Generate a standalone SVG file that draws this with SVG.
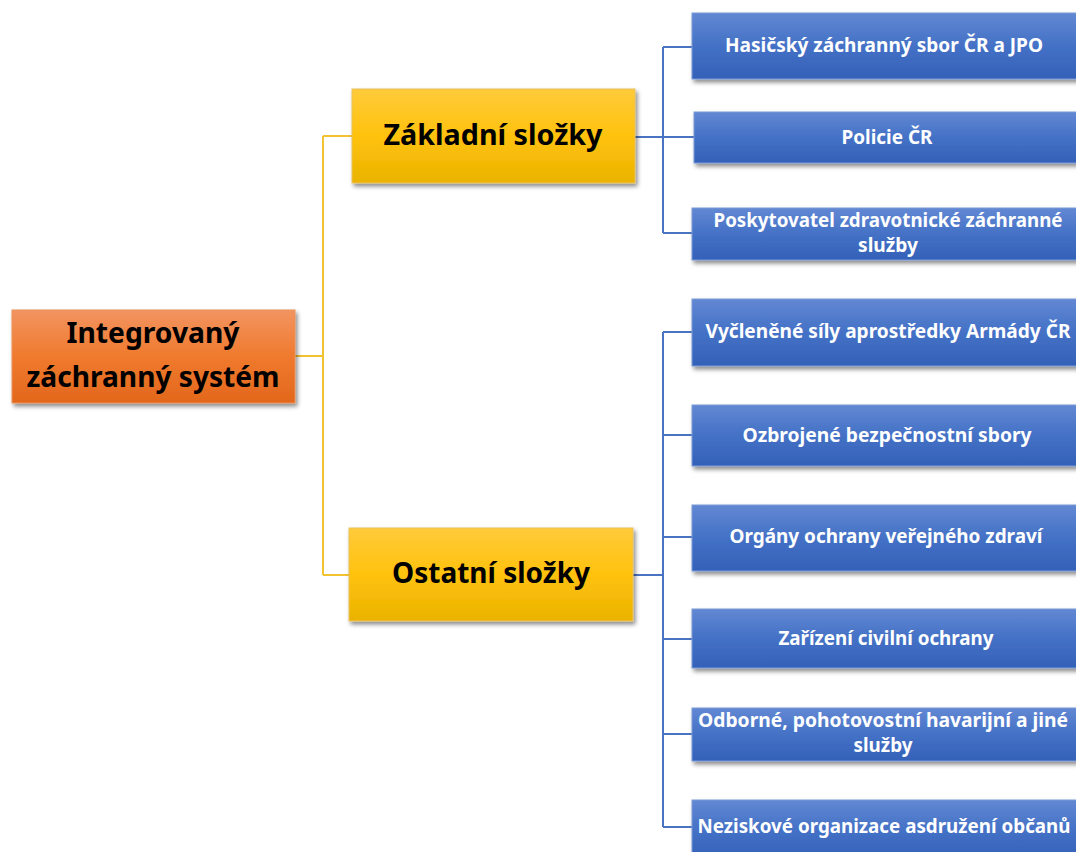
<svg xmlns="http://www.w3.org/2000/svg" width="1076" height="852" viewBox="0 0 1076 852">
<defs>
<linearGradient id="gO" x1="0" y1="0" x2="0" y2="1"><stop offset="0" stop-color="#F29461"/><stop offset="0.5" stop-color="#F07A2E"/><stop offset="1" stop-color="#E2671C"/></linearGradient>
<linearGradient id="gY" x1="0" y1="0" x2="0" y2="1"><stop offset="0" stop-color="#FFCB3A"/><stop offset="0.5" stop-color="#FFC20E"/><stop offset="1" stop-color="#E9B300"/></linearGradient>
<linearGradient id="gB" x1="0" y1="0" x2="0" y2="1"><stop offset="0" stop-color="#6288D3"/><stop offset="0.5" stop-color="#4471C6"/><stop offset="1" stop-color="#3461B8"/></linearGradient>
<filter id="sh" x="-10%" y="-20%" width="130%" height="160%"><feDropShadow dx="2" dy="3" stdDeviation="2" flood-color="#000" flood-opacity="0.45"/></filter>
</defs>
<style>
.root{fill:url(#gO);stroke:#E9915A;stroke-width:1;filter:url(#sh)}
.mid{fill:url(#gY);stroke:#E8C060;stroke-width:1;filter:url(#sh)}
.leaf{fill:url(#gB);stroke:#7A9AD6;stroke-width:1;filter:url(#sh)}
.t{font-family:"Noto Sans","Open Sans",sans-serif;font-weight:bold;text-anchor:middle}
.tb{fill:#000;font-size:28px}
.tw{fill:#fff;font-size:19px}
.cy{fill:none;stroke:#F2C231;stroke-width:2}
.cb{fill:none;stroke:#4A74C2;stroke-width:2}
</style>
<rect width="1076" height="852" fill="#fff"/>
<g id="connectors">
<path class="cy" d="M295,356 H323 M323,136 V575 M323,136 H352 M323,575 H349"/>
<path class="cb" d="M635,137 H663 M663,47 V233 M663,47 H692 M663,137 H694 M663,233 H692"/>
<path class="cb" d="M633,575 H663 M663,332 V827 M663,332 H692 M663,435 H692 M663,537 H692 M663,639 H692 M663,734 H692 M663,827 H692"/>
</g>
<g id="root"><rect class="root" x="12" y="310" width="283" height="93"/>
<text class="t tb" x="153" y="343" textLength="173" lengthAdjust="spacingAndGlyphs">Integrovaný</text>
<text class="t tb" x="153" y="387" textLength="253" lengthAdjust="spacingAndGlyphs">záchranný systém</text></g>
<g id="zakladni"><rect class="mid" x="352" y="89" width="283" height="94"/>
<text class="t tb" x="493" y="145" textLength="219" lengthAdjust="spacingAndGlyphs">Základní složky</text></g>
<g id="ostatni"><rect class="mid" x="349" y="528" width="284" height="93"/>
<text class="t tb" x="491" y="583" textLength="198" lengthAdjust="spacingAndGlyphs">Ostatní složky</text></g>
<g id="hzs"><rect class="leaf" x="692" y="13" width="390" height="66"/>
<text class="t tw" x="884" y="52" textLength="318" lengthAdjust="spacingAndGlyphs">Hasičský záchranný sbor ČR a JPO</text></g>
<g id="policie"><rect class="leaf" x="694" y="112" width="390" height="51"/>
<text class="t tw" x="887" y="144" textLength="91" lengthAdjust="spacingAndGlyphs">Policie ČR</text></g>
<g id="zzs"><rect class="leaf" x="692" y="208" width="390" height="52"/>
<text class="t tw" x="888" y="227" textLength="349" lengthAdjust="spacingAndGlyphs">Poskytovatel zdravotnické záchranné</text>
<text class="t tw" x="888" y="252" textLength="60" lengthAdjust="spacingAndGlyphs">služby</text></g>
<g id="armada"><rect class="leaf" x="692" y="299" width="390" height="67"/>
<text class="t tw" x="888" y="338" textLength="365" lengthAdjust="spacingAndGlyphs">Vyčleněné síly aprostředky Armády ČR</text></g>
<g id="ozbrojene"><rect class="leaf" x="692" y="405" width="390" height="61"/>
<text class="t tw" x="887" y="442" textLength="289" lengthAdjust="spacingAndGlyphs">Ozbrojené bezpečnostní sbory</text></g>
<g id="organy"><rect class="leaf" x="692" y="505" width="390" height="66"/>
<text class="t tw" x="886" y="543" textLength="313" lengthAdjust="spacingAndGlyphs">Orgány ochrany veřejného zdraví</text></g>
<g id="civilni"><rect class="leaf" x="692" y="609" width="390" height="59"/>
<text class="t tw" x="886" y="645" textLength="215" lengthAdjust="spacingAndGlyphs">Zařízení civilní ochrany</text></g>
<g id="odborne"><rect class="leaf" x="692" y="708" width="390" height="53"/>
<text class="t tw" x="883" y="727" textLength="370" lengthAdjust="spacingAndGlyphs">Odborné, pohotovostní havarijní a jiné</text>
<text class="t tw" x="883" y="752" textLength="59" lengthAdjust="spacingAndGlyphs">služby</text></g>
<g id="neziskove"><rect class="leaf" x="692" y="800" width="390" height="60"/>
<text class="t tw" x="884" y="833" textLength="373" lengthAdjust="spacingAndGlyphs">Neziskové organizace asdružení občanů</text></g>
</svg>
